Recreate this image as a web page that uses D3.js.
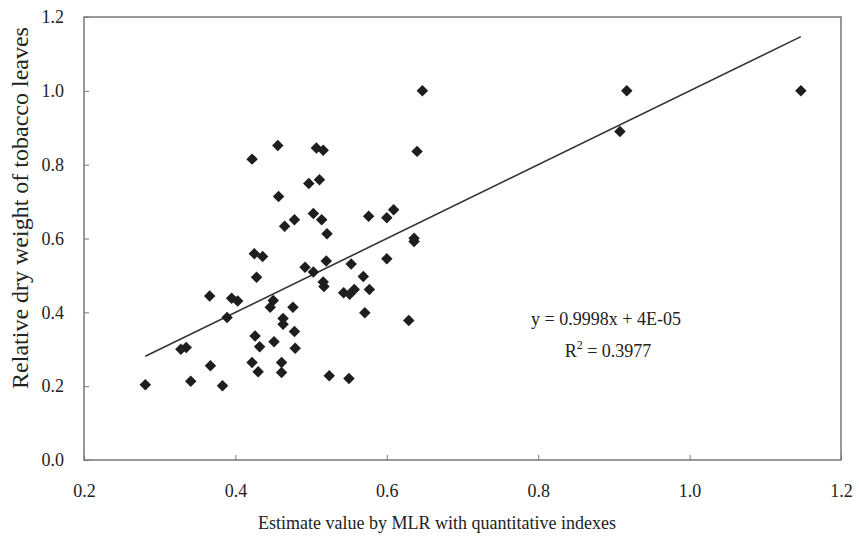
<!DOCTYPE html>
<meta charset="utf-8">
<style>
  body { margin: 0; background: #fff; }
  text { font-family: "Liberation Serif", "Times New Roman", serif; fill: #222; }
</style>

<!-- Load d3.js -->
<script src="https://d3js.org/d3.v7.min.js"></script>

<div id="my_dataviz"></div>

<script>

    // estimated values (x) and measured relative dry weight (y)
    var estimateValues = [0.281, 0.328, 0.335, 0.341, 0.367, 0.366, 0.383, 0.389, 0.395, 0.403,
                          0.422, 0.425, 0.436, 0.428, 0.426, 0.432, 0.422, 0.430, 0.450, 0.446,
                          0.451, 0.456, 0.457, 0.465, 0.463, 0.463, 0.461, 0.461, 0.478, 0.476,
                          0.478, 0.479, 0.497, 0.492, 0.503, 0.503, 0.507, 0.516, 0.511, 0.514,
                          0.521, 0.520, 0.516, 0.517, 0.524, 0.543, 0.551, 0.557, 0.553, 0.550,
                          0.569, 0.571, 0.576, 0.577, 0.600, 0.600, 0.609, 0.629, 0.636, 0.636,
                          0.640, 0.647, 0.908, 0.917, 1.147];
    var dryWeights     = [0.204, 0.300, 0.305, 0.213, 0.255, 0.444, 0.201, 0.386, 0.438, 0.431,
                          0.815, 0.559, 0.551, 0.495, 0.336, 0.307, 0.264, 0.239, 0.432, 0.414,
                          0.320, 0.852, 0.714, 0.633, 0.383, 0.368, 0.264, 0.237, 0.651, 0.414,
                          0.348, 0.303, 0.749, 0.522, 0.509, 0.668, 0.845, 0.839, 0.759, 0.651,
                          0.613, 0.539, 0.482, 0.470, 0.228, 0.453, 0.449, 0.462, 0.531, 0.221,
                          0.497, 0.399, 0.660, 0.462, 0.545, 0.656, 0.678, 0.378, 0.601, 0.592,
                          0.836, 1.000, 0.890, 1.000, 1.000];

    var xTicks = [0.2, 0.4, 0.6, 0.8, 1.0, 1.2];
    var yTicks = [0.0, 0.2, 0.4, 0.6, 0.8, 1.0, 1.2];

    // linear trend line
    var slope = 0.9998, intercept = 0.00004, rSquared = 0.3977;

    var xTitle = "Estimate value by MLR with quantitative indexes";
    var yTitle = "Relative dry weight of tobacco leaves";

    var width = 859, height = 540;
    var margin = {top: 17, right: 18, bottom: 80, left: 84};

    var svg = d3.select("#my_dataviz")
      .append("svg")
        .attr("width", width)
        .attr("height", height);

    var x = d3.scaleLinear()
      .domain([0.2, 1.2])
      .range([margin.left, width - margin.right]);

    var y = d3.scaleLinear()
      .domain([0, 1.2])
      .range([height - margin.bottom, margin.top]);

    var points = estimateValues.map(function(d, i) { return {x: d, y: dryWeights[i]}; });

    // X axis (ticks inside the frame)
    var gx = svg.append("g")
      .attr("transform", "translate(0," + y(0) + ")")
      .call(d3.axisBottom(x).tickValues(xTicks).tickFormat(d3.format(".1f"))
        .tickSize(-5).tickPadding(24));
    gx.select(".domain").remove();
    gx.selectAll("line").attr("stroke", "#777");
    gx.selectAll("text").attr("font-size", 18).style("font-family", "Liberation Serif");

    // Y axis
    var gy = svg.append("g")
      .attr("transform", "translate(" + x(0.2) + ",0)")
      .call(d3.axisLeft(y).tickValues(yTicks).tickFormat(d3.format(".1f"))
        .tickSize(-5).tickPadding(20));
    gy.select(".domain").remove();
    gy.selectAll("line").attr("stroke", "#777");
    gy.selectAll("text").attr("font-size", 18).style("font-family", "Liberation Serif");

    // plot frame
    svg.append("rect")
      .attr("x", x(0.2))
      .attr("y", y(1.2))
      .attr("width", x(1.2) - x(0.2))
      .attr("height", y(0) - y(1.2))
      .attr("fill", "none")
      .attr("stroke", "#777")
      .attr("stroke-width", 1.5);

    // trend line over the data range
    var xExt = d3.extent(estimateValues);
    svg.append("line")
      .attr("x1", x(xExt[0]))
      .attr("y1", y(slope * xExt[0] + intercept))
      .attr("x2", x(xExt[1]))
      .attr("y2", y(slope * xExt[1] + intercept))
      .attr("stroke", "#333")
      .attr("stroke-width", 1.6);

    // diamond markers
    svg.append("g")
      .selectAll("path")
      .data(points)
      .enter().append("path")
        .attr("d", d3.symbol().type(d3.symbolSquare).size(66))
        .attr("transform", function(d) { return "translate(" + x(d.x) + "," + y(d.y) + ") rotate(45)"; })
        .attr("fill", "#1e1e1e");

    // equation
    var eq = svg.append("g").attr("font-size", 18);
    eq.append("text")
      .attr("x", 606).attr("y", 325)
      .attr("text-anchor", "middle")
      .text("y = " + slope + "x + 4E-05");
    var r2 = eq.append("text")
      .attr("x", 608).attr("y", 357)
      .attr("text-anchor", "middle");
    r2.append("tspan").text("R");
    r2.append("tspan").attr("dy", -8).attr("font-size", 12).text("2");
    r2.append("tspan").attr("dy", 8).text(" = " + rSquared);

    // axis titles
    svg.append("text")
      .attr("x", 437).attr("y", 529)
      .attr("text-anchor", "middle")
      .attr("font-size", 18)
      .text(xTitle);

    svg.append("text")
      .attr("transform", "translate(28,208) rotate(-90)")
      .attr("text-anchor", "middle")
      .attr("font-size", 24)
      .text(yTitle);

</script>
